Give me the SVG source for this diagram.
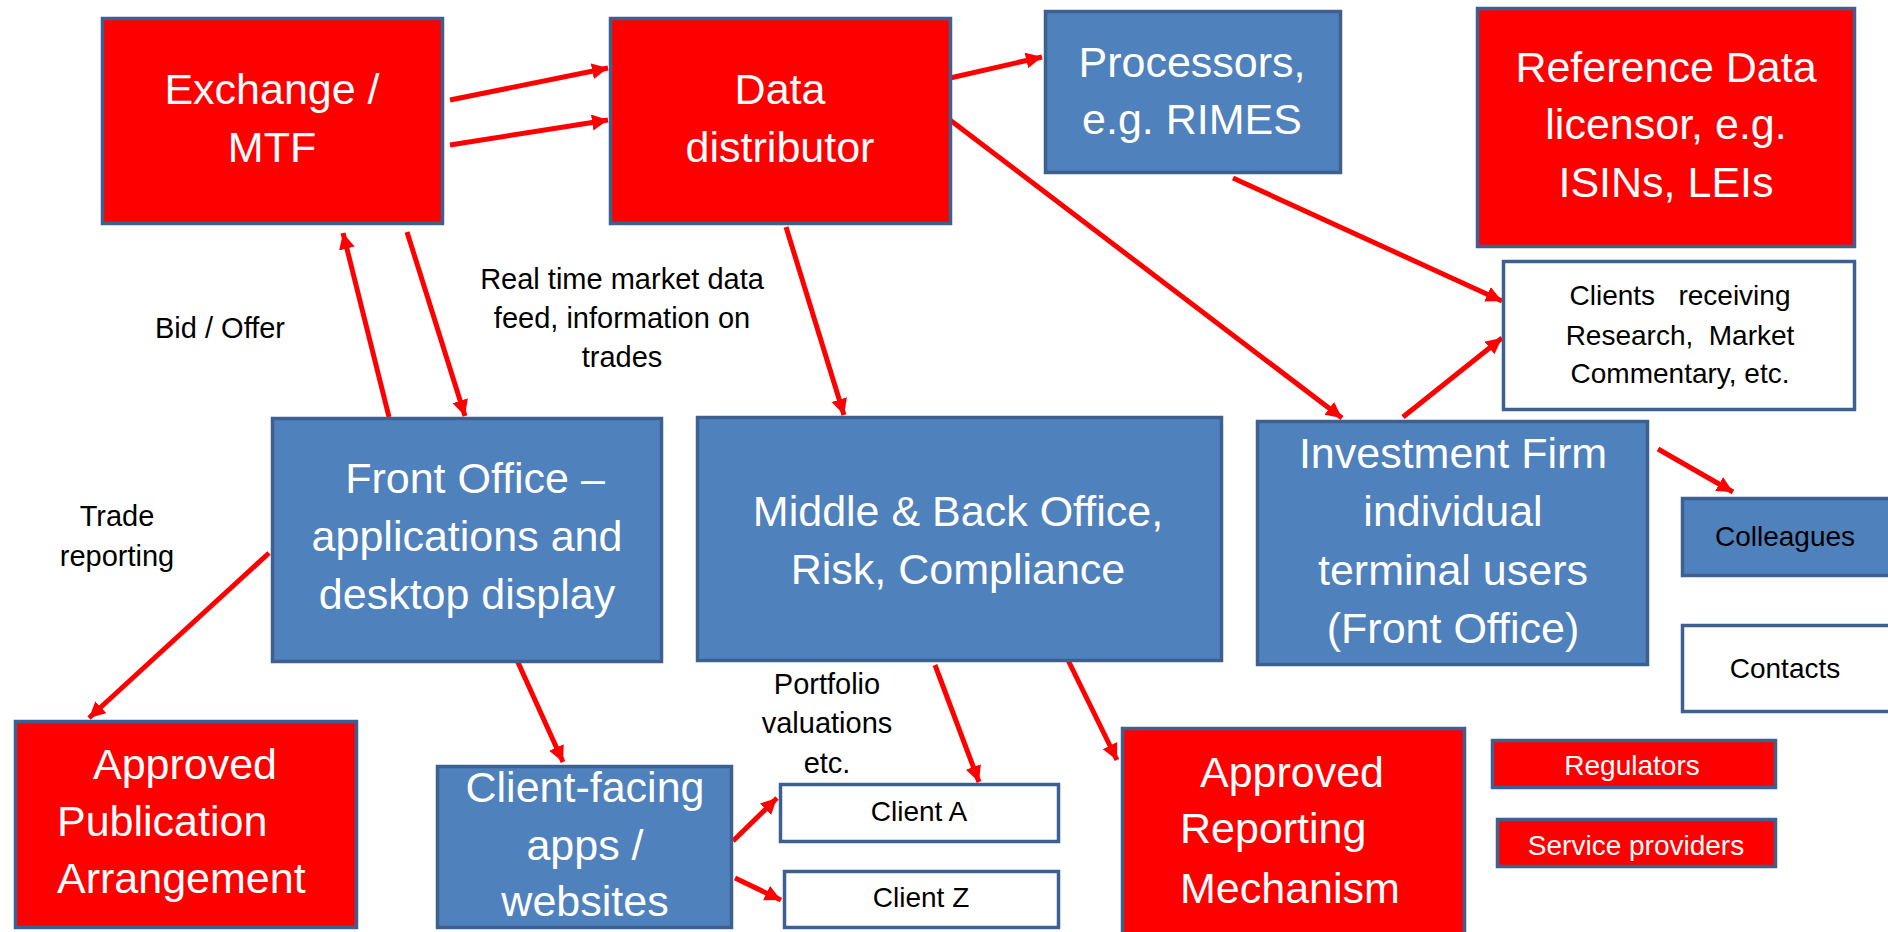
<svg xmlns="http://www.w3.org/2000/svg" width="1888" height="932" viewBox="0 0 1888 932">
<defs>
<style>
.box{stroke:#3C6190;stroke-width:3.5}
.red{fill:#FF0000}
.blue{fill:#4F81BD}
.white{fill:#FFFFFF}
.big{font-family:"Liberation Sans",Arial,sans-serif;font-size:43px;fill:#FFFFFF;text-anchor:middle}
.sm{font-family:"Liberation Sans",Arial,sans-serif;font-size:28px;fill:#000000;text-anchor:middle}
.smw{font-family:"Liberation Sans",Arial,sans-serif;font-size:28px;fill:#FFFFFF;text-anchor:middle}
.lbl{font-family:"Liberation Sans",Arial,sans-serif;font-size:29px;fill:#000000;text-anchor:middle}
.arr{stroke:#FF0000;stroke-width:5;fill:none;marker-end:url(#ah)}
</style>
<marker id="ah" markerUnits="userSpaceOnUse" markerWidth="20" markerHeight="18" refX="16" refY="8" orient="auto">
<path d="M0,0 L16,8 L0,16 Z" fill="#FF0000"/>
</marker>
</defs>
<rect width="1888" height="932" fill="#FFFFFF"/>

<g id="connectors">
<line class="arr" x1="450" y1="100" x2="608" y2="68"/>
<line class="arr" x1="450" y1="145" x2="608" y2="120"/>
<line class="arr" x1="950" y1="78" x2="1042" y2="57"/>
<line class="arr" x1="950" y1="120" x2="1342" y2="418"/>
<line class="arr" x1="1233" y1="178" x2="1502" y2="301"/>
<line class="arr" x1="1403" y1="417" x2="1502" y2="338"/>
<line class="arr" x1="389" y1="417" x2="343" y2="233"/>
<line class="arr" x1="407" y1="232" x2="465" y2="416"/>
<line class="arr" x1="786" y1="227" x2="844" y2="415"/>
<line class="arr" x1="269" y1="553" x2="89" y2="718"/>
<line class="arr" x1="516" y1="658" x2="563" y2="762"/>
<line class="arr" x1="733" y1="841" x2="777" y2="798"/>
<line class="arr" x1="735" y1="878" x2="781" y2="900"/>
<line class="arr" x1="935" y1="665" x2="979" y2="782"/>
<line class="arr" x1="1067" y1="658" x2="1117" y2="760"/>
<line class="arr" x1="1658" y1="449" x2="1733" y2="492"/>
</g>

<g id="exchange">
<rect class="box red" x="102.5" y="18.5" width="340" height="205"/>
<text class="big" x="272" y="104">Exchange /</text>
<text class="big" x="272" y="162">MTF</text>
</g>
<g id="data-distributor">
<rect class="box red" x="610.5" y="18.5" width="340" height="205"/>
<text class="big" x="780" y="104">Data</text>
<text class="big" x="780" y="162">distributor</text>
</g>
<g id="processors">
<rect class="box blue" x="1045.5" y="11.5" width="295" height="161"/>
<text class="big" x="1192" y="77">Processors,</text>
<text class="big" x="1192" y="134">e.g. RIMES</text>
</g>
<g id="reference-data">
<rect class="box red" x="1477.5" y="8.5" width="377" height="238"/>
<text class="big" x="1666" y="82">Reference Data</text>
<text class="big" x="1666" y="139">licensor, e.g.</text>
<text class="big" x="1666" y="197">ISINs, LEIs</text>
</g>
<g id="clients-receiving">
<rect class="box white" x="1503.5" y="261.5" width="351" height="148"/>
<text class="sm" x="1680" y="305" xml:space="preserve">Clients   receiving</text>
<text class="sm" x="1680" y="345" xml:space="preserve">Research,  Market</text>
<text class="sm" x="1680" y="383">Commentary, etc.</text>
</g>
<g id="front-office">
<rect class="box blue" x="272.5" y="418.5" width="389" height="243"/>
<text class="big" x="475" y="493">Front Office –</text>
<text class="big" x="467" y="551">applications and</text>
<text class="big" x="467" y="609">desktop display</text>
</g>
<g id="middle-back-office">
<rect class="box blue" x="697.5" y="417.5" width="524" height="243"/>
<text class="big" x="958" y="526">Middle &amp; Back Office,</text>
<text class="big" x="958" y="584">Risk, Compliance</text>
</g>
<g id="investment-firm">
<rect class="box blue" x="1257.5" y="421.5" width="390" height="243"/>
<text class="big" x="1453" y="468">Investment Firm</text>
<text class="big" x="1453" y="526">individual</text>
<text class="big" x="1453" y="585">terminal users</text>
<text class="big" x="1453" y="643">(Front Office)</text>
</g>
<g id="colleagues">
<rect class="box blue" x="1682.5" y="498.5" width="215" height="77"/>
<text class="sm" x="1785" y="546">Colleagues</text>
</g>
<g id="contacts">
<rect class="box white" x="1682.5" y="625.5" width="215" height="86"/>
<text class="sm" x="1785" y="678">Contacts</text>
</g>
<g id="apa">
<rect class="box red" x="15.5" y="721.5" width="341" height="206"/>
<text class="big" x="185" y="779">Approved</text>
<text class="big" x="57" y="836" style="text-anchor:start">Publication</text>
<text class="big" x="57" y="893" style="text-anchor:start">Arrangement</text>
</g>
<g id="client-facing">
<rect class="box blue" x="437.5" y="766.5" width="294" height="161"/>
<text class="big" x="585" y="802">Client-facing</text>
<text class="big" x="585" y="860">apps /</text>
<text class="big" x="585" y="916">websites</text>
</g>
<g id="client-a">
<rect class="box white" x="780.5" y="784.5" width="278" height="57"/>
<text class="sm" x="919" y="821">Client A</text>
</g>
<g id="client-z">
<rect class="box white" x="784.5" y="871.5" width="274" height="56"/>
<text class="sm" x="921" y="907">Client Z</text>
</g>
<g id="arm">
<rect class="box red" x="1122.5" y="728.5" width="342" height="212"/>
<text class="big" x="1292" y="787">Approved</text>
<text class="big" x="1180" y="843" style="text-anchor:start">Reporting</text>
<text class="big" x="1180" y="903" style="text-anchor:start">Mechanism</text>
</g>
<g id="regulators">
<rect class="box red" x="1492.5" y="740.5" width="283" height="47"/>
<text class="smw" x="1632" y="775">Regulators</text>
</g>
<g id="service-providers">
<rect class="box red" x="1497.5" y="819.5" width="278" height="47"/>
<text class="smw" x="1636" y="855">Service providers</text>
</g>

<g id="labels">
<text class="lbl" x="220" y="338">Bid / Offer</text>
<text class="lbl" x="622" y="289">Real time market data</text>
<text class="lbl" x="622" y="328">feed, information on</text>
<text class="lbl" x="622" y="367">trades</text>
<text class="lbl" x="117" y="526">Trade</text>
<text class="lbl" x="117" y="566">reporting</text>
<text class="lbl" x="827" y="694">Portfolio</text>
<text class="lbl" x="827" y="733">valuations</text>
<text class="lbl" x="827" y="773">etc.</text>
</g>
</svg>
